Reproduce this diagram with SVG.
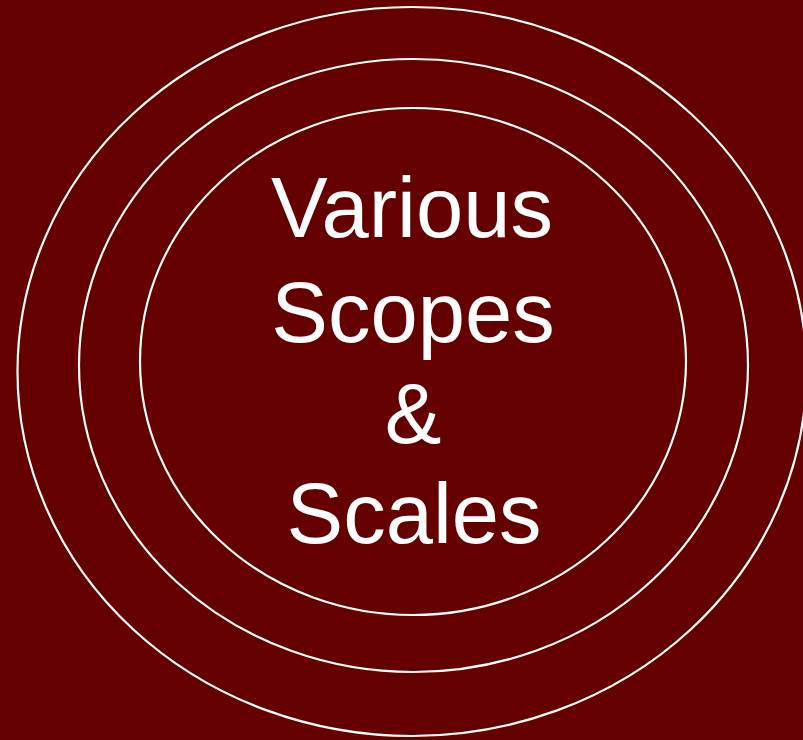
<svg xmlns="http://www.w3.org/2000/svg" width="803" height="740" viewBox="0 0 803 740">
<style>
.ring{fill:none;stroke:#ffffff;stroke-width:2.2}
.t{font-family:"Liberation Sans",Arial,sans-serif;font-size:85px;fill:#ffffff;text-anchor:middle}
</style>
<rect x="0" y="0" width="803" height="740" fill="#640000"/>
<g id="outer"><ellipse class="ring" cx="412" cy="371.5" rx="394.5" ry="364.5"/></g>
<g id="middle"><ellipse class="ring" cx="413.5" cy="365.5" rx="334.5" ry="306.5"/></g>
<g id="inner"><ellipse class="ring" cx="413" cy="361.5" rx="273" ry="253.5"/>
<text class="t" x="412" y="237">Various</text>
<text class="t" x="413" y="342">Scopes</text>
<text class="t" x="413" y="443">&amp;</text>
<text class="t" x="414" y="543">Scales</text>
</g>
</svg>
